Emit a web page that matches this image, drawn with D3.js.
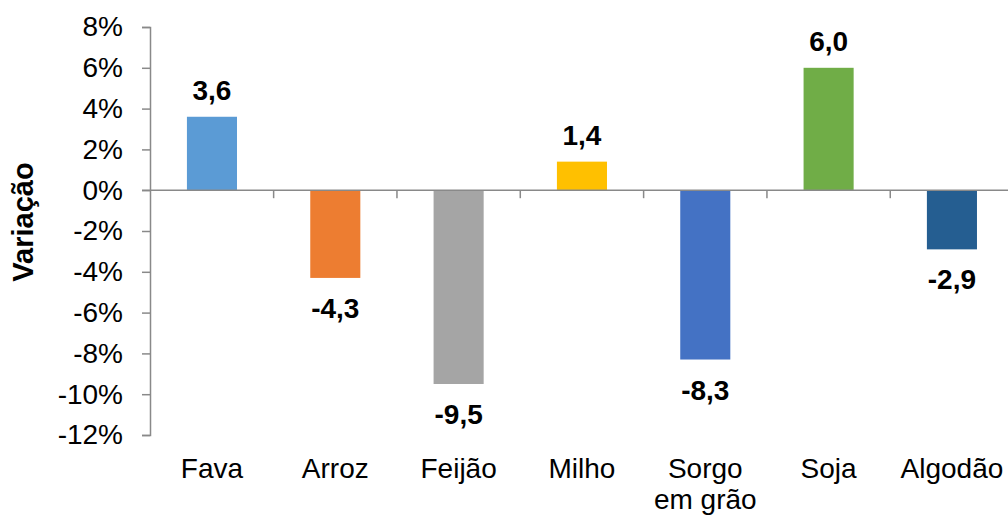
<!DOCTYPE html>
<html>
<head>
<meta charset="utf-8">
<script src="https://cdn.jsdelivr.net/npm/d3@7"></script>
<style>
  body { margin: 0; background: #fff; }
  text { font-family: "Liberation Sans", Arial, sans-serif; fill: #000; }
</style>
</head>
<body>
<script>
var width = 1008,
  height = 515;

var categorias = ["Fava", "Arroz", "Feijão", "Milho", "Sorgo\nem grão", "Soja", "Algodão"];
var variacao = [3.6, -4.3, -9.5, 1.4, -8.3, 6.0, -2.9];
var rotulos = ["3,6", "-4,3", "-9,5", "1,4", "-8,3", "6,0", "-2,9"];
var cores = ["#5B9BD5", "#ED7D31", "#A5A5A5", "#FFC000", "#4472C4", "#70AD47", "#255E91"];
var ticksY = [-12, -10, -8, -6, -4, -2, 0, 2, 4, 6, 8];

var data = categorias.map(function (c, i) {
  return { cat: c, val: variacao[i], lab: rotulos[i], cor: cores[i] };
});

var svg = d3.select("body")
  .append("svg")
  .attr("width", width)
  .attr("height", height);

var x = d3.scaleBand()
  .domain(categorias)
  .range([150.3, 1013.6])
  .paddingInner(0.594)
  .paddingOuter(0.297);

var y = d3.scaleLinear()
  .domain([-12, 8])
  .range([435, 27]);

var grey = "#898989";

// eixo Y
var eixoY = svg.append("g")
  .attr("transform", "translate(150,0)")
  .call(d3.axisLeft(y).tickValues(ticksY).tickSize(8).tickPadding(19)
    .tickFormat(function (d) { return d + "%"; }));
eixoY.select(".domain").attr("stroke", grey).attr("stroke-width", 1.5);
eixoY.selectAll(".tick line").attr("stroke", grey).attr("stroke-width", 1.5);
eixoY.selectAll(".tick text")
  .style("font-size", "28px")
  .style("font-family", "'Liberation Sans', Arial, sans-serif")
  .attr("fill", "#000");

// barras
svg.append("g")
  .selectAll("rect")
  .data(data)
  .enter()
  .append("rect")
  .attr("x", function (d) { return x(d.cat); })
  .attr("width", x.bandwidth())
  .attr("y", function (d) { return y(Math.max(0, d.val)); })
  .attr("height", function (d) { return Math.abs(y(d.val) - y(0)); })
  .attr("fill", function (d) { return d.cor; });

// linha do zero + ticks de categoria
var step = x.step();
var limites = d3.range(categorias.length + 1).map(function (i) {
  return x.range()[0] + i * step;
});
svg.append("line")
  .attr("x1", 142).attr("x2", width)
  .attr("y1", y(0)).attr("y2", y(0))
  .attr("stroke", grey).attr("stroke-width", 1.5);
svg.append("g")
  .selectAll("line")
  .data(limites.slice(1))
  .enter()
  .append("line")
  .attr("x1", function (d) { return d; })
  .attr("x2", function (d) { return d; })
  .attr("y1", y(0))
  .attr("y2", y(0) + 8)
  .attr("stroke", grey).attr("stroke-width", 1.5);

// rotulos de valor
svg.append("g")
  .selectAll("text")
  .data(data)
  .enter()
  .append("text")
  .attr("x", function (d) { return x(d.cat) + x.bandwidth() / 2; })
  .attr("y", function (d) {
    return d.val >= 0 ? y(d.val) - 17 : y(d.val) + 40;
  })
  .attr("text-anchor", "middle")
  .style("font-size", "28px")
  .style("font-weight", "bold")
  .text(function (d) { return d.lab; });

// categorias
var cat = svg.append("g")
  .selectAll("text")
  .data(categorias)
  .enter()
  .append("text")
  .attr("text-anchor", "middle")
  .attr("y", 478)
  .style("font-size", "28px");
cat.each(function (d) {
  var t = d3.select(this);
  var cx = x(d) + x.bandwidth() / 2;
  d.split("\n").forEach(function (linha, i) {
    t.append("tspan")
      .attr("x", cx)
      .attr("dy", i === 0 ? 0 : 31)
      .text(linha);
  });
});

// titulo do eixo
svg.append("text")
  .attr("transform", "translate(33,222) rotate(-90)")
  .attr("text-anchor", "middle")
  .style("font-size", "29px")
  .style("font-weight", "bold")
  .text("Variação");
</script>
</body>
</html>
